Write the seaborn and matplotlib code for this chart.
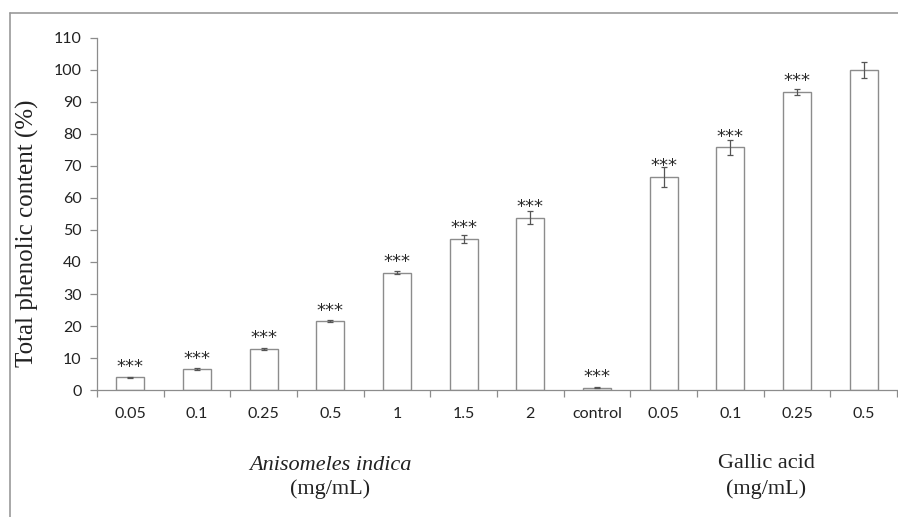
import matplotlib
matplotlib.use("Agg")
import matplotlib.pyplot as plt
import seaborn as sns
import pandas as pd
import numpy as np
from matplotlib.lines import Line2D

# ---- data ----
categories = ["0.05", "0.1", "0.25", "0.5", "1", "1.5", "2", "control",
              "0.05 ", "0.1 ", "0.25 ", "0.5 "]
tick_labels = ["0.05", "0.1", "0.25", "0.5", "1", "1.5", "2", "control",
               "0.05", "0.1", "0.25", "0.5"]
values = [4.0, 6.5, 12.8, 21.5, 36.7, 47.2, 53.9, 0.7, 66.6, 75.8, 93.1, 100.0]
errors = [0.2, 0.3, 0.2, 0.3, 0.6, 1.15, 2.1, 0.1, 3.1, 2.3, 1.0, 2.6]
stars = ["***"] * 11 + [""]
group_labels = ["Anisomeles indica", "Gallic acid"]

df = pd.DataFrame({"cat": categories, "val": values})

sns.set_theme(style="white")
plt.rcParams["font.family"] = ["Lato", "DejaVu Sans"]

fig = plt.figure(figsize=(8.98, 5.17), dpi=100)
ax = fig.add_axes([0.108, 0.2456, 0.891, 0.681])

edge = "#8c8c8c"
text_col = "#222222"
sns.barplot(data=df, x="cat", y="val", order=categories, color="white",
            edgecolor=edge, linewidth=1.0, width=0.42, errorbar=None, ax=ax,
            saturation=1)
ax.errorbar(np.arange(len(values)), values, yerr=errors, fmt="none",
            ecolor="#555555", elinewidth=0.9, capsize=2.5, capthick=0.9)

for i, (v, s) in enumerate(zip(values, stars)):
    if s:
        ax.annotate(s, (i, v), xytext=(0, 1.2), textcoords="offset points",
                    ha="center", va="bottom", fontsize=13,
                    family="DejaVu Sans", color="#2a2a2a")

ax.set_ylim(0, 110)
ax.set_xlim(-0.5, len(values) - 0.5)
ax.set_yticks(np.arange(0, 111, 10))
ax.set_xticks(np.arange(len(values)))
ax.set_xticklabels(tick_labels)
ax.set_xticks(np.arange(-0.5, len(values), 1), minor=True)
ax.tick_params(axis="x", which="major", length=0, pad=12, labelsize=11.5,
               labelcolor=text_col)
ax.tick_params(axis="x", which="minor", length=5, width=0.9, color=edge,
               direction="out", bottom=True)
ax.tick_params(axis="y", length=5, width=0.9, color=edge, direction="out",
               left=True, labelsize=11.5, labelcolor=text_col, pad=6)
ax.set_xlabel("")
ax.set_ylabel("")

for sp in ["top", "right"]:
    ax.spines[sp].set_visible(False)
for sp in ["left", "bottom"]:
    ax.spines[sp].set_color(edge)
    ax.spines[sp].set_linewidth(0.9)

# y-axis title
fig.text(27 / 898, 1 - 233 / 517, "Total phenolic content (%)", rotation=90,
         ha="center", va="center", family="Liberation Serif", fontsize=18,
         color=text_col)

# group labels
fig.text(330 / 898, 1 - 466 / 517, group_labels[0], ha="center", va="center",
         family="Liberation Serif", style="italic", fontsize=16, color=text_col)
fig.text(330 / 898, 1 - 489 / 517, "(mg/mL)", ha="center", va="center",
         family="Liberation Serif", fontsize=16, color=text_col)
fig.text(766 / 898, 1 - 463 / 517, group_labels[1], ha="center", va="center",
         family="Liberation Serif", fontsize=16, color=text_col)
fig.text(766 / 898, 1 - 489 / 517, "(mg/mL)", ha="center", va="center",
         family="Liberation Serif", fontsize=16, color=text_col)

# outer frame (top and left edges)
fig.add_artist(Line2D([9.5 / 898, 1.0], [1 - 12.5 / 517, 1 - 12.5 / 517],
                      transform=fig.transFigure, color="#999999", lw=1.2))
fig.add_artist(Line2D([9.5 / 898, 9.5 / 898], [0, 1 - 12.5 / 517],
                      transform=fig.transFigure, color="#999999", lw=1.2))

fig.savefig("out.png", dpi=100)
